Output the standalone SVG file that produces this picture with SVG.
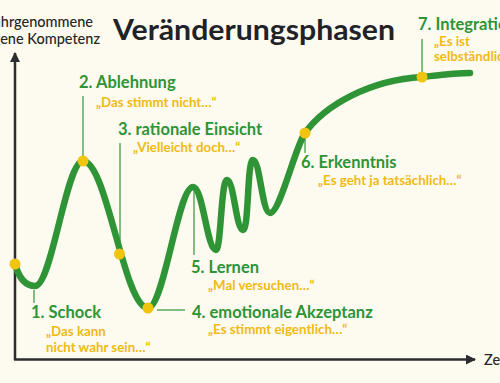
<svg xmlns="http://www.w3.org/2000/svg" width="500" height="383" viewBox="0 0 500 383">
<defs>
<style>
.bg{fill:#fdfaf0}
.axis{stroke:#2b2d31;stroke-width:2.5;fill:none}
.curve{stroke:#2e9436;stroke-width:6.5;fill:none;stroke-linecap:round;stroke-linejoin:round}
.lead{stroke:#3f9e45;stroke-width:1.3;fill:none}
.dot{fill:#f1c40f}
.t{font-family:Lato,"Open Sans","Liberation Sans",sans-serif}
.title{font-size:28.5px;font-weight:700;fill:#1f2226}
.ax{font-size:14.5px;font-weight:500;fill:#24262a}
.lab{font-size:16.5px;font-weight:700;fill:#2e9436}
.quote{font-size:13.3px;font-weight:700;fill:#efbb14}
</style>
<marker id="arr" viewBox="0 0 10 10" refX="9" refY="5" markerWidth="10" markerHeight="10" markerUnits="userSpaceOnUse" orient="auto">
<path d="M0,0 L10,5 L0,10 z" fill="#2b2d31"/>
</marker>
</defs>
<rect class="bg" x="0" y="0" width="500" height="383"/>
<g id="axes">
<line class="axis" x1="15" y1="360" x2="15" y2="53" marker-end="url(#arr)"/>
<line class="axis" x1="14" y1="359.5" x2="475" y2="359.5" marker-end="url(#arr)"/>
<text class="t ax" x="93" y="27" text-anchor="end">Wahrgenommene</text>
<text class="t ax" x="100" y="44" text-anchor="end">eigene Kompetenz</text>
<text class="t ax" x="484" y="365">Zeit</text>
</g>
<text id="title" class="t title" x="113" y="40" textLength="282" lengthAdjust="spacingAndGlyphs">Veränderungsphasen</text>
<g id="connectors">
<line class="lead" x1="34" y1="290" x2="34" y2="303"/>
<line class="lead" x1="83" y1="96" x2="83" y2="160"/>
<line class="lead" x1="120" y1="143" x2="120" y2="253"/>
<line class="lead" x1="157" y1="310" x2="185" y2="310"/>
<line class="lead" x1="194" y1="190" x2="194" y2="255"/>
<line class="lead" x1="305" y1="136" x2="305" y2="153"/>
<line class="lead" x1="422" y1="39" x2="422" y2="76"/>
</g>
<g id="curve">
<path class="curve" d="M15,264 C19,278 26,286 35,286 C52,286 66,161 83,161 C107,161 124,308 148,308 C164,308 178,187 193,187 C203,187 207,250 216,250 C221,250 221,180 227,180 C234,180 236,230 243,230 C249,230 247,160 253,160 C260,160 262,213 270,213 C280,213 295,147 305,133 C325,105 370,80 422,77 C440,75 455,73 470,73"/>
</g>
<g id="n1">
<circle class="dot" cx="15" cy="264" r="5.5"/>
<text class="t lab" x="31" y="318">1. Schock</text>
<text class="t quote" x="46" y="336">„Das kann</text>
<text class="t quote" x="46" y="352">nicht wahr sein…“</text>
</g>
<g id="n2">
<circle class="dot" cx="83" cy="161" r="5.5"/>
<text class="t lab" x="79" y="88">2. Ablehnung</text>
<text class="t quote" x="96" y="107">„Das stimmt nicht…“</text>
</g>
<g id="n3">
<circle class="dot" cx="119.5" cy="254" r="5.5"/>
<text class="t lab" x="118" y="135">3. rationale Einsicht</text>
<text class="t quote" x="133" y="152">„Vielleicht doch…“</text>
</g>
<g id="n4">
<circle class="dot" cx="148" cy="308" r="5.5"/>
<text class="t lab" x="192" y="318">4. emotionale Akzeptanz</text>
<text class="t quote" x="208" y="334">„Es stimmt eigentlich…“</text>
</g>
<g id="n5">
<text class="t lab" x="191" y="273">5. Lernen</text>
<text class="t quote" x="208" y="290">„Mal versuchen…“</text>
</g>
<g id="n6">
<circle class="dot" cx="305" cy="133" r="5.5"/>
<text class="t lab" x="301" y="168">6. Erkenntnis</text>
<text class="t quote" x="318" y="185">„Es geht ja tatsächlich…“</text>
</g>
<g id="n7">
<circle class="dot" cx="422" cy="77" r="5.5"/>
<text class="t lab" x="418" y="30">7. Integration</text>
<text class="t quote" x="434" y="46">„Es ist</text>
<text class="t quote" x="434" y="61">selbständlich…“</text>
</g>
</svg>
